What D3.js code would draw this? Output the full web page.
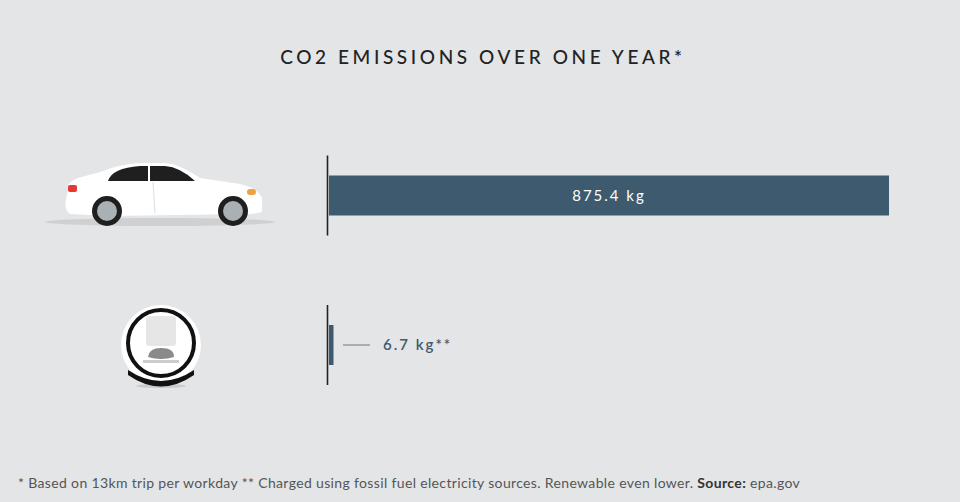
<!DOCTYPE html>
<html><head><meta charset="utf-8">
<script src="https://cdn.jsdelivr.net/npm/d3@7"></script>
<style>body{margin:0;background:#e4e5e7;font-family:Lato,"Open Sans",sans-serif}</style>
</head><body><svg id="c" width="960" height="502"></svg>
<script>
const categories = ["Car", "Unicycle"];
const values = [875.4, 6.7];
const labels = ["875.4 kg", "6.7 kg**"];

const svg = d3.select("#c");
svg.append("rect").attr("width",960).attr("height",502).attr("fill","#e4e5e7");
svg.append("text").attr("x",483).attr("y",64).attr("text-anchor","middle")
  .attr("font-size",19).attr("letter-spacing",3.6).attr("fill","#222").attr("font-weight",500).text("CO2 EMISSIONS OVER ONE YEAR*");

const x = d3.scaleLinear().domain([0, 875.4]).range([329, 889]);
const y = d3.scaleBand().domain(categories).range([135.7, 404.8]).paddingInner(0.2).paddingOuter(0);
const bh = 40;

categories.forEach((c,i)=>{
  const cy = y(c)+y.bandwidth()/2;
  svg.append("line").attr("x1",327.5).attr("x2",327.5).attr("y1",cy-40).attr("y2",cy+40).attr("stroke","#222").attr("stroke-width",1.6);
  const w = Math.max(x(values[i])-x(0), 4.5);
  svg.append("rect").attr("x",x(0)).attr("y",cy-bh/2).attr("width",w).attr("height",bh).attr("fill","#3d5a6e");
  if (w > 100) {
    svg.append("text").attr("x",(x(0)+x(values[i]))/2).attr("y",cy+5).attr("text-anchor","middle")
      .attr("font-size",15).attr("letter-spacing",2).attr("fill","#fff").text(labels[i]);
  } else {
    svg.append("line").attr("x1",x(0)+14).attr("x2",x(0)+41).attr("y1",cy).attr("y2",cy).attr("stroke","#777").attr("stroke-width",1);
    svg.append("text").attr("x",x(0)+54).attr("y",cy+5).attr("font-size",15).attr("letter-spacing",2).attr("fill","#3d5a6e").attr("font-weight",600).text(labels[i]);
  }
});

// car icon
const car = svg.append("g");
car.append("ellipse").attr("cx",160).attr("cy",222).attr("rx",115).attr("ry",4).attr("fill","#c9cacc").attr("opacity",0.8);
car.append("path").attr("d","M68,190 Q66,182 78,178 L100,172 Q120,164 140,163 L165,163 Q180,164 200,178 L240,184 Q258,188 262,198 L262,212 Q250,215 245,214 L110,216 L70,214 Q64,210 66,200 Z").attr("fill","#fff");
car.append("path").attr("d","M108,181 Q112,168 140,166 L165,166 Q180,167 195,181 Z").attr("fill","#1f1f1f");
car.append("line").attr("x1",149).attr("x2",149).attr("y1",166).attr("y2",181).attr("stroke","#fff").attr("stroke-width",2);
car.append("line").attr("x1",153).attr("x2",155).attr("y1",182).attr("y2",213).attr("stroke","#ddd");
car.append("rect").attr("x",68).attr("y",185).attr("width",9).attr("height",7).attr("rx",2).attr("fill","#e53935");
car.append("rect").attr("x",247).attr("y",189).attr("width",9).attr("height",6).attr("rx",3).attr("fill","#f0a040");
[[107,211],[233,211]].forEach(([cx,cy])=>{
  car.append("circle").attr("cx",cx).attr("cy",cy).attr("r",15).attr("fill","#1f1f1f");
  car.append("circle").attr("cx",cx).attr("cy",cy).attr("r",10).attr("fill","#a9b1b5");
});

// unicycle icon
const u = svg.append("g");
u.append("ellipse").attr("cx",161).attr("cy",386).attr("rx",25).attr("ry",2).attr("fill","#c9cacc");
u.append("circle").attr("cx",161).attr("cy",345).attr("r",40).attr("fill","#fff");
u.append("circle").attr("cx",161).attr("cy",343).attr("r",33).attr("fill","none").attr("stroke","#111").attr("stroke-width",4);
u.append("path").attr("d","M128,370 Q161,392 194,370 L194,375 Q161,398 128,375 Z").attr("fill","#111");
u.append("rect").attr("x",146).attr("y",316).attr("width",30).attr("height",30).attr("rx",3).attr("fill","#e6e6e6");
u.append("path").attr("d","M148,357 Q149,348 161,348 Q174,348 174,357 Q161,361 148,357 Z").attr("fill","#8a8a8a");
u.append("rect").attr("x",143).attr("y",360).attr("width",36).attr("height",3).attr("fill","#ccc");

svg.append("text").attr("x",18).attr("y",488).attr("font-size",14).attr("letter-spacing",0.35).attr("fill","#555")
  .html('* Based on 13km trip per workday ** Charged using fossil fuel electricity sources. Renewable even lower. <tspan font-weight="700" fill="#333">Source:</tspan> epa.gov');
</script></body></html>
